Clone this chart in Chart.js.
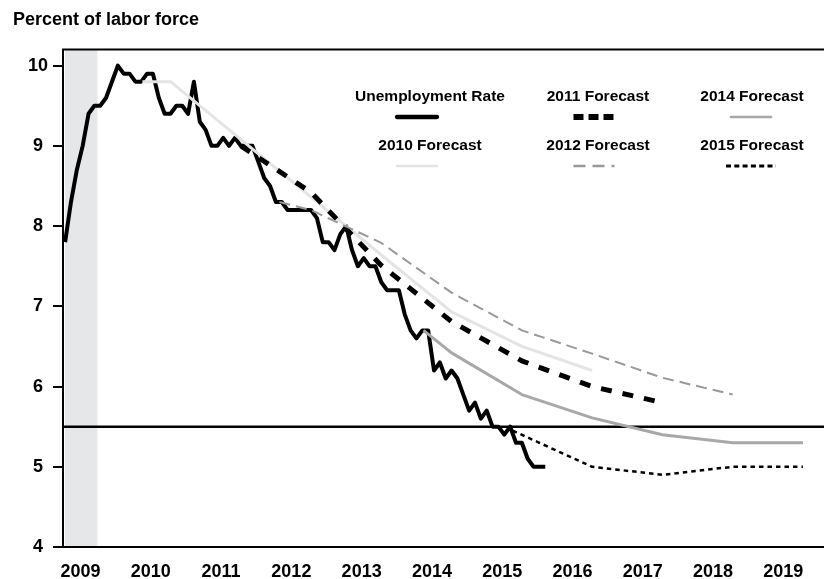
<!DOCTYPE html>
<html>
<head>
<meta charset="utf-8">
<script src="https://cdn.jsdelivr.net/npm/chart.js@4.4.1/dist/chart.umd.min.js"></script>
<style>
  html, body { margin: 0; padding: 0; background: #fff; }
  #wrap { width: 824px; height: 579px; }
</style>
</head>
<body>
<div id="wrap"><canvas id="chart"></canvas></div>
<script>
// Unemployment rate vs. successive forecasts, percent of labor force.

// Monthly actual rate, Jan 2009 .. Nov 2015
const unempStartYear = 2009;
const unemploymentRate = [
  7.8, 8.3, 8.7, 9.0, 9.4, 9.5, 9.5, 9.6, 9.8, 10.0, 9.9, 9.9,
  9.8, 9.8, 9.9, 9.9, 9.6, 9.4, 9.4, 9.5, 9.5, 9.4, 9.8, 9.3,
  9.2, 9.0, 9.0, 9.1, 9.0, 9.1, 9.0, 9.0, 9.0, 8.8, 8.6, 8.5,
  8.3, 8.3, 8.2, 8.2, 8.2, 8.2, 8.2, 8.1, 7.8, 7.8, 7.7, 7.9,
  8.0, 7.7, 7.5, 7.6, 7.5, 7.5, 7.3, 7.2, 7.2, 7.2, 6.9, 6.7,
  6.6, 6.7, 6.7, 6.2, 6.3, 6.1, 6.2, 6.1, 5.9, 5.7, 5.8, 5.6,
  5.7, 5.5, 5.5, 5.4, 5.5, 5.3, 5.3, 5.1, 5.0, 5.0, 5.0,
];

// Forecast paths: [year, percent]
const forecast2010 = [[2010.1, 9.8], [2010.5, 9.8], [2011.5, 9.08], [2012.5, 8.36], [2013.5, 7.64], [2014.5, 6.93], [2015.5, 6.5], [2016.5, 6.2]];
const forecast2011 = [[2011.5, 9.0], [2012.5, 8.42], [2013.5, 7.51], [2014.5, 6.81], [2015.5, 6.32], [2016.5, 6.0], [2017.5, 5.8]];
const forecast2012 = [[2012.05, 8.3], [2012.5, 8.2], [2013.5, 7.79], [2014.5, 7.17], [2015.5, 6.7], [2016.5, 6.41], [2017.5, 6.11], [2018.5, 5.9]];
const forecast2014 = [[2014.1, 6.7], [2014.5, 6.42], [2015.5, 5.9], [2016.5, 5.61], [2017.5, 5.4], [2018.5, 5.3], [2019.5, 5.3]];
const forecast2015 = [[2015.37, 5.45], [2016.5, 5.0], [2017.5, 4.9], [2018.5, 5.0], [2019.5, 5.0]];

const referenceRate = 5.5;          // horizontal line
const recession = [2009.0, 2009.46]; // shaded band (ends June 2009)

const xTickLabels = ['2009', '2010', '2011', '2012', '2013', '2014', '2015', '2016', '2017', '2018', '2019'];
const yTickValues = [4, 5, 6, 7, 8, 9, 10];
const xMin = 2008.97, xMax = 2019.8;
const yMin = 4, yMax = 10.2;

const FONT = "'Liberation Sans', Arial, Helvetica, sans-serif";
Chart.defaults.font.family = FONT;
Chart.defaults.color = '#000';

const pts = (arr) => arr.map(([x, y]) => ({ x, y }));
const monthly = unemploymentRate.map((y, i) => ({ x: unempStartYear + i / 12, y }));

const line = (extra) => ({ fill: false, tension: 0, pointRadius: 0, pointHoverRadius: 0,
  borderCapStyle: 'butt', borderJoinStyle: 'round', ...extra });

const datasets = [
  line({ label: 'Unemployment Rate', data: monthly, borderColor: '#000', borderWidth: 4, order: 9,
    legendWidth: 4.3, legendDash: [] }),
  line({ label: '2010 Forecast', data: pts(forecast2010), borderColor: '#e4e4e4', borderWidth: 3, order: 5,
    legendWidth: 2.7, legendDash: [] }),
  line({ label: '2011 Forecast', data: pts(forecast2011), borderColor: '#000', borderWidth: 5, borderDash: [11, 11], order: 4,
    legendWidth: 6, legendDash: [10, 5] }),
  line({ label: '2012 Forecast', data: pts(forecast2012), borderColor: '#999', borderWidth: 2, borderDash: [11, 6], order: 3,
    legendWidth: 2.3, legendDash: [12, 7] }),
  line({ label: '2014 Forecast', data: pts(forecast2014), borderColor: '#a8a8a8', borderWidth: 3, order: 2,
    legendWidth: 2.7, legendDash: [] }),
  line({ label: '2015 Forecast', data: pts(forecast2015), borderColor: '#000', borderWidth: 2.5, borderDash: [4.5, 4], order: 1,
    legendWidth: 3.2, legendDash: [5, 3.3] }),
  line({ label: '', data: [{ x: xMin, y: referenceRate }, { x: xMax, y: referenceRate }], borderColor: '#000', borderWidth: 2.5, order: 10,
    noLegend: true }),
];

// shaded recession band + top frame line
const framePlugin = {
  id: 'frame',
  beforeDatasetsDraw(chart) {
    const { ctx, chartArea: a, scales: { x } } = chart;
    const x0 = Math.max(a.left + 1, x.getPixelForValue(recession[0]));
    const x1 = x.getPixelForValue(recession[1]);
    ctx.save();
    ctx.fillStyle = '#e6e7e9';
    ctx.fillRect(x0, a.top, x1 - x0, a.bottom - a.top - 1);
    ctx.restore();
  },
  afterDatasetsDraw(chart) {
    const { ctx, chartArea: a } = chart;
    ctx.save();
    ctx.strokeStyle = '#000';
    ctx.lineWidth = 2;
    ctx.beginPath();
    ctx.moveTo(a.left - 1, a.top);
    ctx.lineTo(a.right, a.top);
    ctx.stroke();
    ctx.restore();
  },
};

// legend: label on top, line sample centred below, 3 columns x 2 rows
const legendPlugin = {
  id: 'stackLegend',
  afterDraw(chart, args, o) {
    const { ctx } = chart;
    ctx.save();
    ctx.font = `bold ${o.fontSize}px ${FONT}`;
    ctx.fillStyle = '#000';
    ctx.textAlign = 'center';
    ctx.textBaseline = 'alphabetic';
    o.columns.forEach((labels, c) => {
      labels.forEach((label, r) => {
        const ds = chart.data.datasets.find((d) => d.label === label);
        if (!ds) return;
        ctx.fillText(label, o.textX[c], o.textY[r]);
        const dash = ds.legendDash || [];
        const len = dash.length ? o.dashLen[c] : o.sampleLen;
        const sx = o.sampleX[c] - len / 2, sy = o.sampleY[r];
        ctx.beginPath();
        ctx.setLineDash(dash);
        ctx.lineCap = dash.length ? 'butt' : 'round';
        ctx.strokeStyle = ds.borderColor;
        ctx.lineWidth = ds.legendWidth;
        ctx.moveTo(sx, sy);
        ctx.lineTo(sx + len, sy);
        ctx.stroke();
      });
    });
    ctx.restore();
  },
};

new Chart(document.getElementById('chart'), {
  type: 'line',
  data: { datasets },
  options: {
    responsive: true,
    maintainAspectRatio: false,
    animation: false,
    events: [],
    layout: { padding: { left: 13, right: 0, top: 0, bottom: 0 } },
    scales: {
      x: {
        type: 'linear', min: xMin, max: xMax,
        afterFit: (s) => { s.height = 32; },
        afterBuildTicks: (s) => { s.ticks = xTickLabels.map((l) => ({ value: +l + 0.22 })); },
        grid: { display: false },
        border: { display: true, color: '#000', width: 2 },
        ticks: { autoSkip: false, maxRotation: 0, padding: 6, color: '#000',
          font: { size: 18, weight: 'bold' }, callback: (v, i) => xTickLabels[i] },
      },
      y: {
        type: 'linear', min: yMin, max: yMax,
        afterFit: (s) => { s.width = 50; },
        afterBuildTicks: (s) => { s.ticks = yTickValues.map((v) => ({ value: v })); },
        grid: { display: true, drawOnChartArea: false, drawTicks: true, tickLength: 10, color: '#000', lineWidth: 2 },
        border: { display: true, color: '#000', width: 2 },
        ticks: { crossAlign: 'center', padding: 5, color: '#000', font: { size: 18, weight: 'bold' },
          callback: (v) => String(v) },
      },
    },
    plugins: {
      legend: { display: false },
      tooltip: { enabled: false },
      title: { display: true, text: 'Percent of labor force', align: 'start', color: '#000',
        font: { size: 18, weight: 'bold' }, padding: { top: 9, bottom: 19 } },
      stackLegend: {
        fontSize: 15.5,
        columns: [['Unemployment Rate', '2010 Forecast'], ['2011 Forecast', '2012 Forecast'], ['2014 Forecast', '2015 Forecast']],
        textX: [430, 598, 752],
        textY: [101, 150],
        sampleX: [417, 594, 751],
        sampleY: [117, 166],
        sampleLen: 40,
        dashLen: [0, 41, 50],
      },
    },
  },
  plugins: [framePlugin, legendPlugin],
});
</script>
</body>
</html>
